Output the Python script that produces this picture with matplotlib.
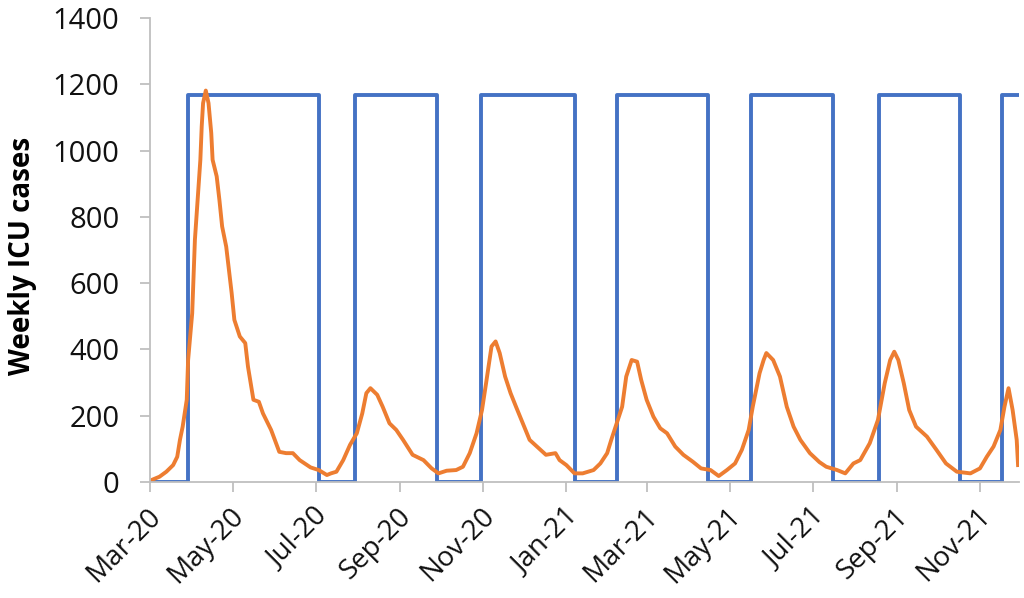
import matplotlib.pyplot as plt
import matplotlib.dates as mdates
import matplotlib.transforms as mtransforms
import pandas as pd

# days since 1 Mar 2020 and weekly ICU cases
icu_day = [0, 7, 12, 17, 20, 22, 24, 27, 28, 31, 33, 35, 37, 38, 39, 41, 43, 45,
           46, 49, 51, 53, 56, 58, 60, 62, 66, 70, 72, 76, 80, 83, 89, 95, 100,
           105, 110, 118, 124, 130, 133, 137, 142, 147, 152, 156, 159, 162, 167,
           171, 176, 181, 186, 193, 201, 207, 212, 218, 225, 230, 235, 240, 244,
           247, 251, 254, 257, 261, 265, 269, 274, 279, 287, 291, 298, 301, 306,
           312, 318, 326, 331, 336, 339, 343, 347, 350, 354, 358, 361, 365, 370,
           375, 380, 386, 392, 399, 405, 412, 418, 424, 430, 435, 440, 443, 448,
           451, 453, 458, 463, 468, 473, 478, 485, 492, 497, 505, 511, 517, 522,
           529, 535, 540, 544, 547, 550, 554, 558, 563, 571, 578, 585, 593, 603,
           610, 615, 620, 625, 628, 631, 634, 637, 638]
icu_cases = [4, 16, 31, 51, 76, 127, 167, 248, 368, 509, 731, 851, 972, 1073,
             1143, 1181, 1143, 1053, 972, 922, 851, 771, 710, 640, 570, 489, 439,
             419, 348, 248, 242, 207, 157, 91, 87, 87, 66, 44, 36, 21, 26, 31, 66,
             112, 147, 207, 268, 283, 263, 227, 177, 157, 127, 82, 66, 41, 26, 34,
             36, 46, 87, 147, 217, 298, 409, 424, 389, 318, 268, 227, 177, 127,
             97, 82, 87, 66, 51, 26, 26, 36, 56, 87, 127, 177, 227, 318, 368, 363,
             308, 248, 197, 162, 147, 107, 82, 61, 41, 36, 18, 36, 56, 97, 157,
             227, 328, 368, 389, 368, 318, 227, 167, 127, 87, 60, 46, 36, 26, 56,
             66, 117, 187, 298, 368, 393, 368, 298, 217, 167, 137, 97, 56, 31, 26,
             41, 76, 107, 157, 227, 283, 217, 127, 51]

# intervention switches (on = high level)
switch_on = ["2020-03-29", "2020-07-30", "2020-10-30", "2021-02-07",
             "2021-05-17", "2021-08-19", "2021-11-17"]
switch_off = ["2020-07-03", "2020-09-28", "2021-01-07", "2021-04-15",
              "2021-07-16", "2021-10-17"]
high_level = 1167

start = pd.Timestamp("2020-03-01")
end = start + pd.Timedelta(days=638.6)

icu_dates = [start + pd.Timedelta(days=d) for d in icu_day]

step_dates = [start]
step_vals = [0]
for i, on in enumerate(switch_on):
    step_dates.append(pd.Timestamp(on))
    step_vals.append(high_level)
    if i < len(switch_off):
        step_dates.append(pd.Timestamp(switch_off[i]))
        step_vals.append(0)
step_dates.append(end)
step_vals.append(step_vals[-1])

plt.rcParams["font.family"] = ["Open Sans", "DejaVu Sans"]

fig = plt.figure(figsize=(10.24, 5.98), dpi=100)
ax = fig.add_axes([0.1465, 0.194, 0.8485, 0.776])

ax.step(step_dates, step_vals, where="post", color="#4472C4", lw=2.8)
ax.plot(icu_dates, icu_cases, color="#ED7D31", lw=2.8)

ax.set_xlim(start, end)
ax.set_ylim(0, 1400)
ax.set_yticks(range(0, 1401, 200))
ax.xaxis.set_major_locator(mdates.MonthLocator(bymonth=[1, 3, 5, 7, 9, 11]))
ax.xaxis.set_major_formatter(mdates.DateFormatter("%b-%y"))

for s in ["top", "right"]:
    ax.spines[s].set_visible(False)
for s in ["left", "bottom"]:
    ax.spines[s].set_color("#BFBFBF")
    ax.spines[s].set_linewidth(1.3)

ax.tick_params(axis="y", labelsize=21, color="#BFBFBF", width=1.3, length=7,
               pad=15, labelcolor="#111111")
ax.tick_params(axis="x", labelsize=20, color="#BFBFBF", width=1.3, length=7,
               pad=14, labelcolor="#111111")

# nudge the rotated date labels a bit to the right like the original
shift = mtransforms.ScaledTranslation(0.07, -0.01, fig.dpi_scale_trans)
for tick in ax.xaxis.get_major_ticks():
    lab = tick.label1
    lab.set_rotation(45)
    lab.set_ha("right")
    lab.set_va("center")
    lab.set_rotation_mode("anchor")
    lab.set_transform(lab.get_transform() + shift)

ax.set_ylabel("Weekly ICU cases", fontsize=20, fontweight="bold")
ax.yaxis.set_label_coords(-0.130, 0.488)

fig.savefig("out.png", dpi=100)
